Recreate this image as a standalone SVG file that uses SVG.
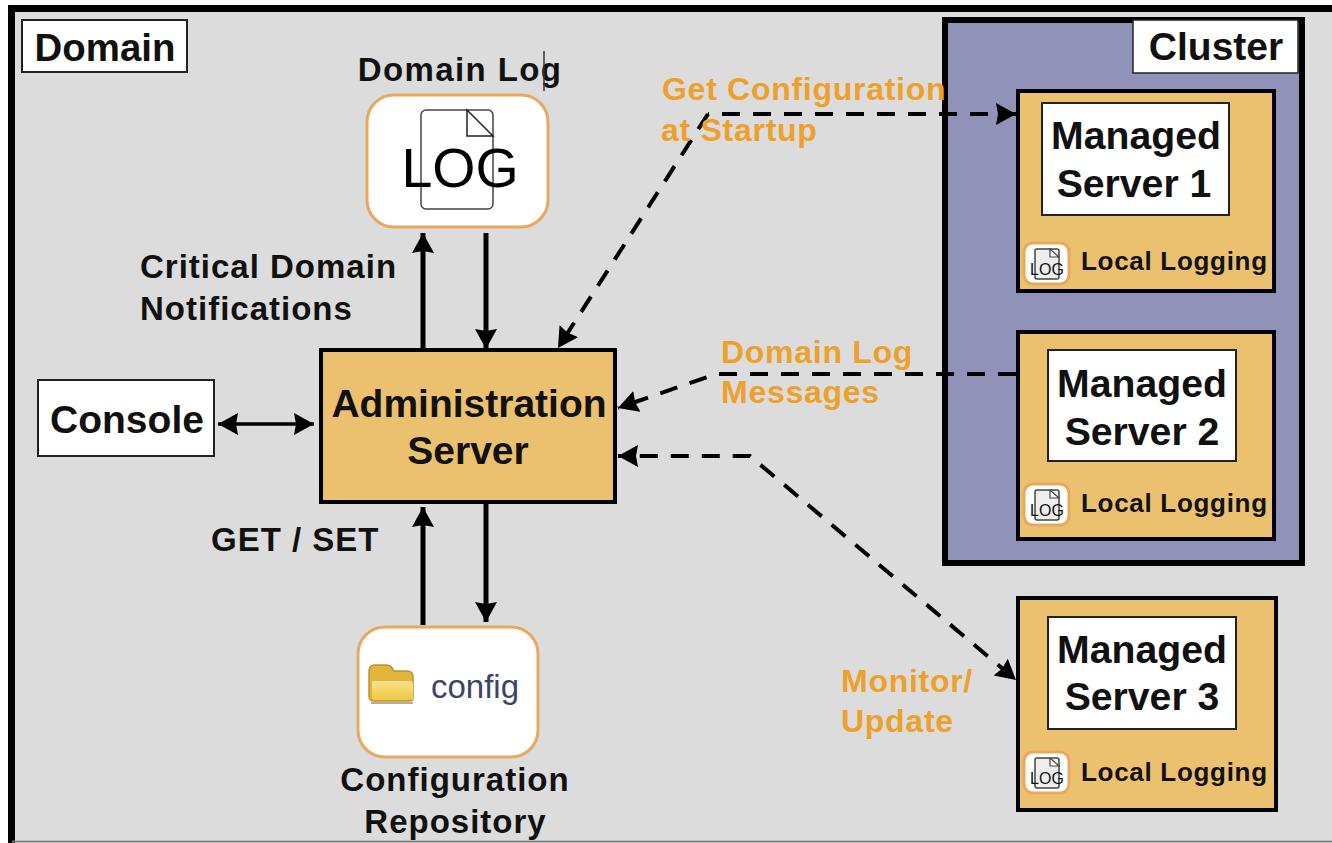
<svg xmlns="http://www.w3.org/2000/svg" width="1332" height="843" viewBox="0 0 1332 843">
<style>
text{font-family:"Liberation Sans",Arial,sans-serif;font-weight:bold;fill:#111}
.or{fill:#eda02c;font-size:32px;letter-spacing:.72px}
.lb{font-size:33px;letter-spacing:1px}
.big{font-size:39.200px;text-anchor:middle}
.ll{font-size:26px;letter-spacing:.7px}
.srv{fill:#ebc06f;stroke:#000;stroke-width:4}
.wb{fill:#fff;stroke:#222;stroke-width:2}
.ic{fill:#fff;stroke:#e8a95f;stroke-width:3}
.c{fill:none;stroke:#000;stroke-width:5}
.d{fill:none;stroke:#000;stroke-width:4;stroke-dasharray:18 13}
</style>
<defs>
<marker id="a" markerUnits="userSpaceOnUse" markerWidth="24" markerHeight="24" refX="20" refY="11" orient="auto-start-reverse"><path d="M0 0L20 11L0 22L2 11z" fill="#000"/></marker>
<linearGradient id="fold" x1="0" y1="0" x2="0" y2="1"><stop offset="0" stop-color="#f6e28f"/><stop offset="1" stop-color="#f0c83f"/></linearGradient>
<g id="smalllog">
<rect x="1" y="0" width="45" height="41" rx="9" class="ic"/>
<rect x="12" y="6" width="24" height="30" rx="2" fill="#eee" stroke="#444" stroke-width="1.500"/>
<path d="M27 6v8h9z" fill="#fff" stroke="#444" stroke-width="1.200"/>
<text x="24" y="32" font-size="16" text-anchor="middle" style="font-weight:normal;fill:#111">LOG</text>
</g>
</defs>
<rect width="1332" height="843" fill="#fff"/>
<path d="M11.500 843V8.500H1332V840H11.500z" fill="#dcdcdc"/>
<path d="M11.500 843V8.500H1332" fill="none" stroke="#000" stroke-width="7"/>
<path d="M12 841.500H1332" stroke="#777" stroke-width="2"/>
<g id="domain"><rect x="22" y="20" width="165" height="52" class="wb"/><text x="105" y="61" class="big" style="font-size:38.400px">Domain</text></g>
<g id="cluster">
<rect x="945" y="20" width="357" height="543" fill="#9092b9" stroke="#000" stroke-width="6"/>
<rect x="1133" y="20" width="165" height="53" fill="#fff" stroke="#222" stroke-width="1.500"/>
<text x="1216" y="60" class="big" style="font-size:39px">Cluster</text>
</g>
<g id="domain-log">
<text x="460" y="81" class="lb" text-anchor="middle" style="letter-spacing:1.4px">Domain Log</text>
<path d="M544 51V91" stroke="#333" stroke-width="1.500"/>
<rect x="367" y="95" width="181" height="132" rx="27" class="ic"/>
<rect x="421" y="110" width="72" height="99" rx="5" fill="none" stroke="#444" stroke-width="1.500"/>
<path d="M467 110V136H493z" fill="none" stroke="#222" stroke-width="1.500"/>
<text x="460" y="187" text-anchor="middle" font-size="55.500" style="font-weight:normal;fill:#000">LOG</text>
</g>
<g id="console"><rect x="38" y="380" width="176" height="76" class="wb"/><text x="127" y="433" class="big" style="font-size:39px">Console</text></g>
<g id="admin"><rect x="321" y="350" width="294" height="152" class="srv"/>
<text x="469" y="417" class="big" style="font-size:39px">Administration</text>
<text x="468" y="464" class="big" style="font-size:39px">Server</text></g>
<g id="config-repo">
<rect x="358" y="627" width="180" height="130" rx="27" class="ic"/>
<path d="M369 696V671q0-6 6-6h11q4 0 6 3l2 3h13q6 0 6 6v21q0 3-4 3H374q-5 0-5-5z" fill="#e3b43a" stroke="#b8933a" stroke-width="1.500"/>
<path d="M372 681h38q3 0 3 3v14q0 2-3 2H375q-3 0-3-2z" fill="url(#fold)"/>
<path d="M371 703h42" stroke="#8d7a4a" stroke-width="2" opacity=".6"/>
<text x="431" y="698" font-size="33" style="font-weight:normal;fill:#3d4468">config</text>
<text x="455" y="791" class="lb" text-anchor="middle">Configuration</text>
<text x="455.500" y="833" class="lb" text-anchor="middle">Repository</text>
</g>
<g id="ms1"><rect x="1018" y="91" width="256" height="200" class="srv"/><rect x="1042" y="103" width="187" height="112" class="wb"/>
<text x="1136" y="149" class="big">Managed</text><text x="1134" y="197" class="big">Server 1</text>
<use href="#smalllog" x="1023" y="243"/><text x="1081" y="270" class="ll">Local Logging</text></g>
<g id="ms2"><rect x="1018" y="332" width="256" height="207" class="srv"/><rect x="1048" y="350" width="188" height="111" class="wb"/>
<text x="1142" y="397" class="big">Managed</text><text x="1142" y="445" class="big">Server 2</text>
<use href="#smalllog" x="1023" y="484"/><text x="1081" y="512" class="ll">Local Logging</text></g>
<g id="ms3"><rect x="1018" y="598" width="258" height="212" class="srv"/><rect x="1048" y="617" width="188" height="112" class="wb"/>
<text x="1142" y="663" class="big">Managed</text><text x="1142" y="710" class="big">Server 3</text>
<use href="#smalllog" x="1023" y="752"/><text x="1081" y="781" class="ll">Local Logging</text></g>
<g id="connectors">
<path class="c" d="M423 349V233" marker-end="url(#a)"/>
<path class="c" d="M486 233V349" marker-end="url(#a)"/>
<path class="c" d="M218 424H314" style="stroke-width:3.500" marker-start="url(#a)" marker-end="url(#a)"/>
<path class="c" d="M423 625V507" marker-end="url(#a)"/>
<path class="c" d="M486 504V622" marker-end="url(#a)"/>
<path class="d" d="M708 114H1016" stroke-dashoffset="-14" marker-end="url(#a)"/>
<path class="d" d="M708 114L558 348" marker-end="url(#a)"/>
<path class="d" d="M1016 374H716L618 408" marker-end="url(#a)"/>
<path class="d" d="M1016 680L750 456H618" stroke-dashoffset="-6" marker-start="url(#a)" marker-end="url(#a)"/>
</g>
<g id="labels">
<text x="140" y="278" class="lb">Critical Domain</text>
<text x="140" y="320" class="lb">Notifications</text>
<text x="211" y="551" class="lb">GET / SET</text>
<text x="662" y="100" class="or">Get Configuration</text>
<text x="661" y="141" class="or">at Startup</text>
<text x="721" y="363" class="or">Domain Log</text>
<text x="721" y="403" class="or">Messages</text>
<text x="841" y="692" class="or">Monitor/</text>
<text x="841" y="732" class="or">Update</text>
</g>
</svg>
